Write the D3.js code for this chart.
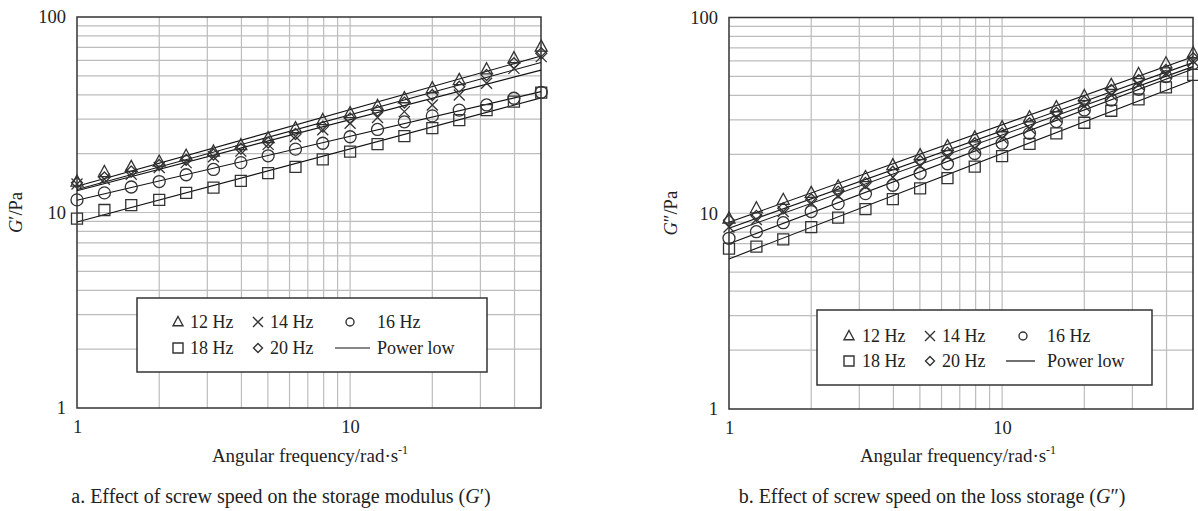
<!DOCTYPE html>
<html>
<head>
<meta charset="utf-8">
<script src="https://cdn.jsdelivr.net/npm/d3@7"></script>
<style>
  body { margin: 0; background: #fff; }
  svg { display: block; font-family: "Liberation Serif", "DejaVu Serif", serif; }
</style>
</head>
<body>
<svg id="chart" width="1198" height="511"></svg>
<script>
// Angular frequency (rad/s), shared by both panels
const freq = [1, 1.26, 1.58, 2, 2.51, 3.16, 3.98, 5.01, 6.31, 7.94, 10, 12.6, 15.8, 20, 25.1, 31.6, 39.8, 50.1];
const seriesNames = ["12 Hz", "14 Hz", "16 Hz", "18 Hz", "20 Hz"];

// Storage modulus G' (Pa)
const storage12 = [14.4, 16.1, 17.1, 18.2, 19.5, 20.5, 22.1, 24.0, 27.0, 29.7, 32.2, 35.1, 38.4, 43.2, 47.6, 54.0, 61.5, 70.5];
const storage14 = [14.0, 14.8, 15.7, 17.0, 18.0, 19.3, 20.6, 22.3, 24.5, 26.5, 28.6, 30.6, 32.8, 35.5, 39.9, 45.8, 54.6, 62.7];
const storage16 = [11.6, 12.6, 13.5, 14.4, 15.6, 16.6, 18.0, 19.5, 21.1, 22.6, 24.4, 26.6, 29.1, 31.2, 33.4, 35.5, 38.4, 41.2];
const storage18 = [9.3, 10.3, 10.9, 11.6, 12.6, 13.4, 14.5, 15.9, 17.1, 18.7, 20.5, 22.4, 24.6, 27.0, 29.7, 33.4, 36.9, 41.0];
const storage20 = [14.2, 15.1, 16.2, 17.5, 18.6, 19.8, 21.2, 22.8, 25.2, 27.5, 30.3, 33.2, 36.5, 39.9, 44.0, 50.5, 58.0, 65.2];

// Loss modulus G'' (Pa)
const loss12 = [9.4, 10.6, 11.7, 12.7, 13.7, 15.3, 17.6, 19.8, 22.0, 24.4, 27.5, 30.9, 34.8, 39.7, 45.2, 51.4, 58.3, 65.6];
const loss14 = [8.5, 9.3, 10.2, 11.3, 12.3, 13.7, 15.3, 17.5, 19.5, 21.5, 24.2, 27.2, 31.0, 35.3, 40.2, 45.5, 51.8, 59.8];
const loss16 = [7.45, 8.05, 8.95, 10.2, 11.2, 12.6, 13.9, 16.0, 17.9, 20.2, 22.8, 25.6, 29.4, 33.7, 37.9, 43.0, 49.9, 58.3];
const loss18 = [6.6, 6.75, 7.36, 8.5, 9.5, 10.5, 11.8, 13.4, 15.1, 17.3, 19.6, 22.6, 25.6, 29.0, 33.4, 38.2, 44.0, 50.9];
const loss20 = [9.2, 9.7, 10.6, 11.8, 12.9, 14.3, 16.3, 18.5, 20.4, 22.8, 25.6, 28.8, 32.6, 37.1, 42.6, 47.9, 53.9, 61.9];

// Tick labels and grid values
const xTicks = [1, 10];
const yTicks = [1, 10, 100];
const xGrid = [2, 3, 4, 5, 6, 7, 8, 9, 10, 20, 30, 40];
const yGrid = [2, 3, 4, 5, 6, 7, 8, 9, 10, 20, 30, 40, 50, 60, 70, 80, 90];

const ink = "#333";
const gridColour = "#bdbdbd";

// Marker shapes, size = half width in px
const shapes = {
  triangle: { draw(c, r) { c.moveTo(0, -r * 1.1); c.lineTo(r, r * 0.75); c.lineTo(-r, r * 0.75); c.closePath(); } },
  times:    { draw(c, r) { c.moveTo(-r, -r); c.lineTo(r, r); c.moveTo(-r, r); c.lineTo(r, -r); } },
  circle:   { draw(c, r) { c.moveTo(r, 0); c.arc(0, 0, r, 0, 2 * Math.PI); } },
  square:   { draw(c, r) { c.rect(-r, -r, 2 * r, 2 * r); } },
  diamond:  { draw(c, r) { c.moveTo(0, -r); c.lineTo(r, 0); c.lineTo(0, r); c.lineTo(-r, 0); c.closePath(); } }
};
const shapeOrder = ["triangle", "times", "circle", "square", "diamond"];
const markerSize = { triangle: 6, times: 5.5, circle: 6, square: 5.5, diamond: 5.5 };
const legendSize = { triangle: 5, times: 5, circle: 4, square: 5, diamond: 4.5 };

const svg = d3.select("#chart");

// Least squares power-law fit in log-log space
function powerFit(xs, ys) {
  const lx = xs.map(Math.log10), ly = ys.map(Math.log10);
  const mx = d3.mean(lx), my = d3.mean(ly);
  const n = d3.sum(lx, (v, i) => (v - mx) * (ly[i] - my)) / d3.sum(lx, v => (v - mx) ** 2);
  const k = my - n * mx;
  return x => Math.pow(10, k + n * Math.log10(x));
}

function drawPanel(p) {
  const g = svg.append("g");
  const x = d3.scaleLog().domain([1, 50]).range([p.left, p.right]);
  const y = d3.scaleLog().domain([1, 100]).range([p.bottom, p.top]);

  // grid
  g.append("g").selectAll("line").data(xGrid).join("line")
    .attr("x1", d => x(d)).attr("x2", d => x(d))
    .attr("y1", p.top).attr("y2", p.bottom)
    .attr("stroke", gridColour).attr("stroke-width", 1.2);
  g.append("g").selectAll("line").data(yGrid).join("line")
    .attr("x1", p.left).attr("x2", p.right)
    .attr("y1", d => y(d)).attr("y2", d => y(d))
    .attr("stroke", gridColour).attr("stroke-width", 1.2);

  // frame
  g.append("rect")
    .attr("x", p.left).attr("y", p.top)
    .attr("width", p.right - p.left).attr("height", p.bottom - p.top)
    .attr("fill", "none").attr("stroke", ink).attr("stroke-width", 1.5);

  // axes (labels only)
  const ax = g.append("g").attr("transform", `translate(0,${p.bottom})`)
    .call(d3.axisBottom(x).tickValues(xTicks).tickFormat(d3.format("d")).tickSize(0).tickPadding(12));
  const ay = g.append("g").attr("transform", `translate(${p.left},0)`)
    .call(d3.axisLeft(y).tickValues(yTicks).tickFormat(d3.format("d")).tickSize(0).tickPadding(11));
  [ax, ay].forEach(a => {
    a.select(".domain").remove();
    a.selectAll("text").attr("font-family", "Liberation Serif").attr("font-size", 18.5).attr("fill", "#222");
  });

  // fitted power-law lines
  const line = d3.line().x(d => x(d[0])).y(d => y(d[1]));
  p.series.forEach(s => {
    const f = powerFit(freq, s);
    g.append("path").datum([[1, f(1)], [50, f(50)]])
      .attr("d", line).attr("fill", "none").attr("stroke", "#111").attr("stroke-width", 1.1);
  });

  // markers
  p.series.forEach((s, si) => {
    const shape = shapeOrder[si];
    const sym = d3.symbol().type(shapes[shape]).size(markerSize[shape]);
    g.append("g").selectAll("path").data(s).join("path")
      .attr("transform", (d, i) => `translate(${x(freq[i])},${y(d)})`)
      .attr("d", sym).attr("fill", "none").attr("stroke", ink).attr("stroke-width", 1.3);
  });

  // axis titles
  const yt = g.append("text")
    .attr("transform", `translate(${p.yTitleX},${(p.top + p.bottom) / 2}) rotate(-90)`)
    .attr("text-anchor", "middle").attr("font-size", 18.5).attr("fill", "#222");
  yt.append("tspan").attr("font-style", "italic").text("G");
  yt.append("tspan").text(p.prime + "/Pa");

  const xt = g.append("text")
    .attr("x", p.xTitleX).attr("y", 462)
    .attr("text-anchor", "middle").attr("font-size", 19).attr("fill", "#222");
  xt.append("tspan").text("Angular frequency/rad\u00b7s");
  xt.append("tspan").attr("font-size", 12).attr("dy", -8).text("-1");

  // legend
  const L = p.legend;
  const lg = g.append("g");
  lg.append("rect").attr("x", L.x).attr("y", L.y).attr("width", L.w).attr("height", L.h)
    .attr("fill", "#fff").attr("stroke", ink).attr("stroke-width", 1.5);
  const items = [
    { shape: "triangle", label: seriesNames[0], col: 0, row: 0 },
    { shape: "times", label: seriesNames[1], col: 1, row: 0 },
    { shape: "circle", label: seriesNames[2], col: 2, row: 0 },
    { shape: "square", label: seriesNames[3], col: 0, row: 1 },
    { shape: "diamond", label: seriesNames[4], col: 1, row: 1 },
    { shape: "line", label: "Power low", col: 2, row: 1 }
  ];
  items.forEach(it => {
    const base = L.rows[it.row];
    const cx = L.sym[it.col];
    if (it.shape === "line") {
      lg.append("line").attr("x1", L.line[0]).attr("x2", L.line[1])
        .attr("y1", base - 6).attr("y2", base - 6).attr("stroke", "#111").attr("stroke-width", 1.2);
    } else {
      lg.append("path").attr("transform", `translate(${cx},${base - 6})`)
        .attr("d", d3.symbol().type(shapes[it.shape]).size(legendSize[it.shape]))
        .attr("fill", "none").attr("stroke", ink).attr("stroke-width", 1.4);
    }
    lg.append("text").attr("x", L.text[it.col]).attr("y", base)
      .attr("font-size", 18).attr("fill", "#222").text(it.label);
  });

  // caption
  const cap = g.append("text").attr("x", p.capX).attr("y", 503)
    .attr("text-anchor", "middle").attr("font-size", 20).attr("fill", "#222");
  cap.append("tspan").text(p.caption);
  cap.append("tspan").attr("font-style", "italic").text("G");
  cap.append("tspan").text(p.prime + ")");
}

drawPanel({
  left: 77, right: 541, top: 17, bottom: 408,
  series: [storage12, storage14, storage16, storage18, storage20],
  prime: "\u2032", yTitleX: 22, xTitleX: 310, capX: 281,
  caption: "a. Effect of screw speed on the storage modulus (",
  legend: { x: 137, y: 298, w: 350, h: 74, rows: [328, 354],
            sym: [178, 258, 350], text: [190, 270, 377], line: [335, 370] }
});

drawPanel({
  left: 729, right: 1193, top: 17.5, bottom: 409,
  series: [loss12, loss14, loss16, loss18, loss20],
  prime: "\u2033", yTitleX: 677, xTitleX: 958, capX: 932,
  caption: "b. Effect of screw speed on the loss storage (",
  legend: { x: 817, y: 310, w: 335, h: 75, rows: [342, 367],
            sym: [849, 930, 1023], text: [862, 942, 1047], line: [1006, 1035] }
});
</script>
</body>
</html>
